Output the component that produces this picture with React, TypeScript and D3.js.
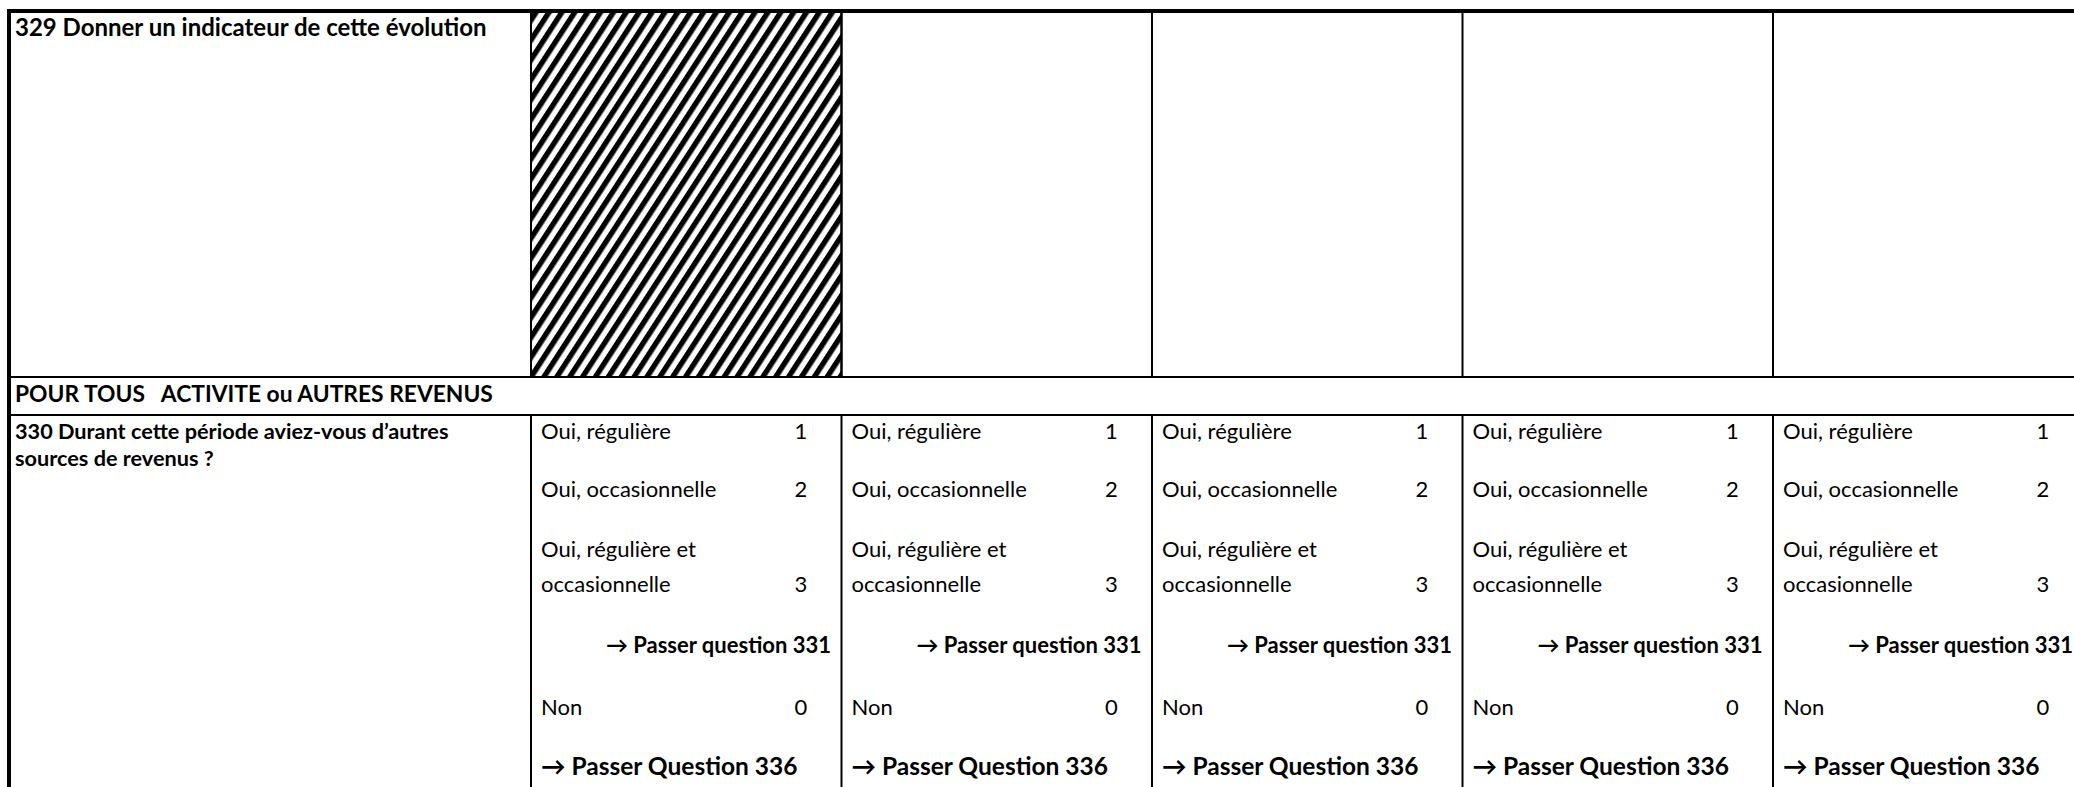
import React from 'react';
import * as d3 from 'd3';

// ---- content ----
const question329 = '329 Donner un indicateur de cette évolution';
const sectionTitle = 'POUR TOUS   ACTIVITE ou AUTRES REVENUS';
const question330Lines = ['330 Durant cette période aviez-vous d’autres', 'sources de revenus ?'];
const answerColumns = ['C1', 'C2', 'C3', 'C4', 'C5'];
const hatchedColumns = ['C1'];
const optionTexts = [
  'Oui, régulière',
  'Oui, occasionnelle',
  'Oui, régulière et',
  'occasionnelle',
  '→ Passer question 331',
  'Non',
  '→ Passer Question 336',
];
const optionCodes = ['1', '2', '', '3', '', '0', ''];
const optionKinds = ['opt', 'opt', 'opt', 'opt', 'skipRight', 'opt', 'skipLeft'];

// ---- layout ----
const W = 2074;
const H = 787;
const FONT = 'Lato, "Open Sans", sans-serif';
const FS = 22;
const left = 9;
const top = 11;
const textX = 15;
const firstColRight = 531;
const colW = 310.5;
const row1Bottom = 377;
const row2Bottom = 415;
const optionCenters = [431, 489.5, 549, 584.5, 645.5, 707, 767];
const q330Centers = [431, 458];

export default function App() {
  const x = d3
    .scaleBand<string>()
    .domain(answerColumns)
    .range([firstColRight, firstColRight + colW * answerColumns.length])
    .padding(0);
  const base = (c: number) => c + 7.5;

  return (
    <svg
      width={W}
      height={H}
      style={{ position: 'absolute', left: 0, top: 0, background: '#fff' }}
      fontFamily={FONT}
    >
      <defs>
        <pattern
          id="hatch"
          patternUnits="userSpaceOnUse"
          width={10.8}
          height={20}
          patternTransform="rotate(33)"
        >
          <rect x={0} y={0} width={5.4} height={20} fill="#000" />
        </pattern>
      </defs>
      <rect x={0} y={0} width={W} height={H} fill="#fff" />

      {/* hatched cells */}
      {hatchedColumns.map((c) => (
        <rect
          key={c}
          x={x(c)!}
          y={top + 2}
          width={x.bandwidth()}
          height={row1Bottom - top - 2}
          fill="url(#hatch)"
        />
      ))}

      {/* horizontal inner lines */}
      <line x1={left} x2={W} y1={row1Bottom} y2={row1Bottom} stroke="#000" strokeWidth={2} />
      <line x1={left} x2={W} y1={row2Bottom} y2={row2Bottom} stroke="#000" strokeWidth={2} />

      {/* vertical column lines */}
      {answerColumns.map((c) => (
        <g key={c}>
          <line x1={x(c)!} x2={x(c)!} y1={top} y2={row1Bottom} stroke="#000" strokeWidth={2} />
          <line x1={x(c)!} x2={x(c)!} y1={row2Bottom} y2={H} stroke="#000" strokeWidth={2} />
        </g>
      ))}
      {hatchedColumns.map((c) => (
        <line
          key={'r' + c}
          x1={x(c)! + x.bandwidth()}
          x2={x(c)! + x.bandwidth()}
          y1={top}
          y2={row1Bottom}
          stroke="#000"
          strokeWidth={2}
        />
      ))}

      {/* outer border */}
      <line x1={left - 2} x2={W} y1={top} y2={top} stroke="#000" strokeWidth={4} />
      <line x1={left} x2={left} y1={top} y2={H} stroke="#000" strokeWidth={4} />

      {/* texts */}
      <text x={textX} y={36} fontSize={24} fontWeight={700} fill="#000">
        {question329}
      </text>
      <text
        x={textX}
        y={base(394)}
        fontSize={22.8}
        fontWeight={700}
        fill="#000"
        style={{ whiteSpace: 'pre' }}
      >
        {sectionTitle}
      </text>
      {question330Lines.map((t, i) => (
        <text key={i} x={textX} y={base(q330Centers[i])} fontSize={21.7} fontWeight={700} fill="#000">
          {t}
        </text>
      ))}

      {answerColumns.map((c) => {
        const x0 = x(c)!;
        return (
          <g key={'o' + c}>
            {optionTexts.map((t, i) => {
              const kind = optionKinds[i];
              const y = base(optionCenters[i]);
              if (kind === 'skipRight') {
                return (
                  <text key={i} x={x0 + 300} y={y} fontSize={FS} fontWeight={700} textAnchor="end" fill="#000">
                    {t}
                  </text>
                );
              }
              if (kind === 'skipLeft') {
                return (
                  <text key={i} x={x0 + 10} y={y} fontSize={24.5} fontWeight={700} fill="#000">
                    {t}
                  </text>
                );
              }
              return (
                <g key={i}>
                  <text x={x0 + 10} y={y} fontSize={FS} fill="#000">
                    {t}
                  </text>
                  {optionCodes[i] && (
                    <text x={x0 + 270} y={y} fontSize={FS} textAnchor="middle" fill="#000">
                      {optionCodes[i]}
                    </text>
                  )}
                </g>
              );
            })}
          </g>
        );
      })}
    </svg>
  );
}
